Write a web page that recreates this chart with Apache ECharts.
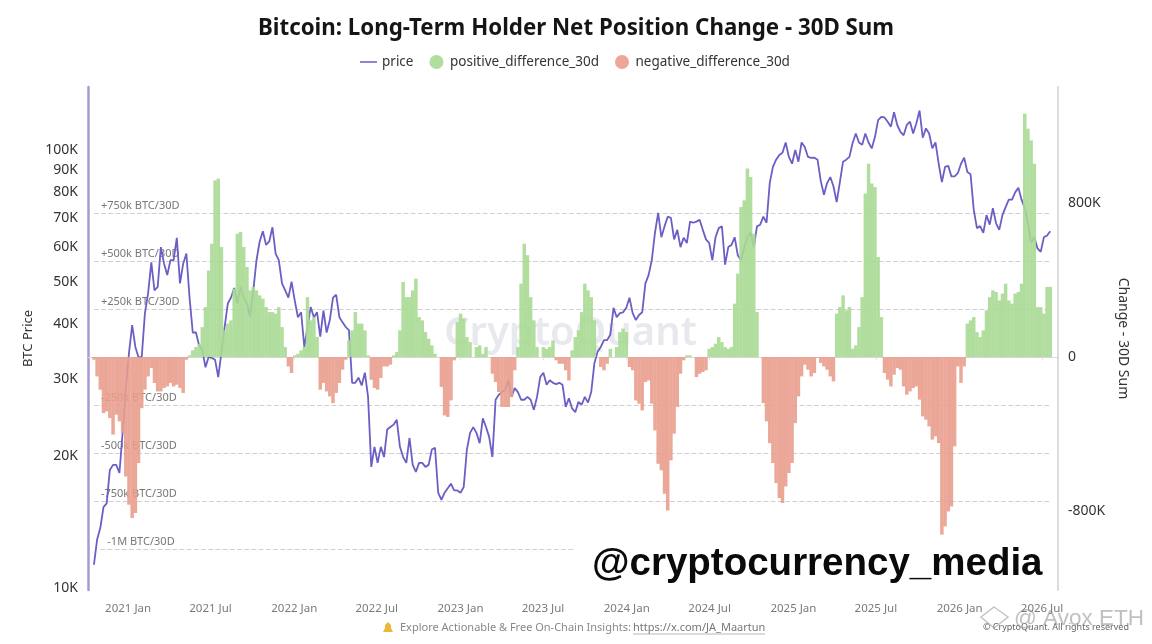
<!DOCTYPE html>
<html><head><meta charset="utf-8">
<style>html,body{margin:0;padding:0;background:#fff}#c{width:1152px;height:644px}</style>
<script src="https://cdn.jsdelivr.net/npm/echarts@6/dist/echarts.min.js"></script>
</head><body><div id="c"></div>
<script>
const firstWeek = '2020-10-18';
const priceK = [11.3,12.9,13.7,15.3,15.6,18.6,19.1,19.1,18.3,22.6,28.3,34.4,39.8,35.5,33.6,33.7,42.4,47.1,55.4,47.8,48.7,60,55,51.8,56,56,63,49.6,55,58,
46,38.3,38.3,35.8,34.9,31.9,33.7,33.5,33.2,30.3,34.5,39.4,44.6,46,48.4,44.6,48.7,46,44.6,41.5,47.8,56,61.8,65.2,60.7,61.8,66.6,58,56,49.6,
47.8,46,50,45.3,41.5,42.6,35.5,39.4,43.8,41.5,42.6,37.5,43,38.3,40.9,46,46.7,41.5,40.4,39.4,38.8,29.4,29.4,30.2,29,31,27.3,18.9,21,19.3,
21,19.9,23,23.3,23.6,24.2,21,19.9,19.3,22,19.1,18.4,19.3,19.3,18.9,19.1,20.7,20.9,16.5,15.9,16.5,16.9,17.3,16.7,16.7,16.5,17,20.7,22.6,23.3,
22.6,21.4,24.4,23.3,22.1,19.9,26.9,27.6,28,28.3,29.8,27.3,28.6,28,26.9,26.9,27.3,26.9,25.5,27.3,30.3,31,29.1,29.8,29.4,29.2,29.4,29.1,25.9,27.1,
25.7,25.2,26.6,26.2,27.3,26.5,28,32.6,34.6,35.5,36.8,36.8,37.9,43.6,41.5,42.4,42.6,43.6,46,42.4,40.9,42,42.6,49.6,51.8,56,64.7,71.8,63.2,66.9,
70.4,70,62.5,65.7,60,63,61.3,68.6,68.2,68.6,69.3,65.7,62.5,61.3,56,63.2,66.3,66.9,54.7,60,60.7,63.2,57.4,56,60,63.2,64.7,60,66.9,67.5,
70.4,68.2,84,91.5,95,97.4,98.5,104,96.4,93,100,94,104,101.6,96.4,95.9,96,95,85,79,84,86.7,82.5,76,84.4,94,95,96.4,103.7,109,
104,102.7,109,104,100.8,107,117,119,118.6,116,113,122,114,110,108,114,116,109,115,123,106.6,112,109,100.8,104,93,84.4,91.5,92,87,
87,88.5,93,96,89,88,73,66.3,67,64.7,71,67.5,73.6,68,65.7,71,74,77,77,80,82,77,73.6,68.2,61.3,63.2,59.6,58.5,63.2,63.8,65.2];
const netChangeK = [-14,-101,-170,-292,-283,-318,-404,-300,-335,-396,-622,-769,-838,-812,-552,-266,-170,-101,-57,-135,-179,-179,-161,-153,-135,-153,-144,-161,-187,-14,
9,35,52,69,156,260,451,590,920,929,573,139,174,191,356,642,651,573,469,347,365,347,321,304,260,234,234,226,260,156,
52,-49,-83,9,17,35,52,312,191,208,104,-170,-135,-179,-205,-240,-187,-135,-66,-14,87,139,234,174,174,139,9,-118,-161,-170,
-109,-49,-49,-40,9,26,139,391,312,312,347,408,208,191,130,95,61,17,0,-156,-304,-312,-226,-17,182,226,200,104,78,0,
52,61,17,52,0,-87,-130,-182,-260,-260,-260,-208,-69,52,382,590,530,312,191,52,0,52,43,52,87,-17,-35,-35,-69,-122,
35,104,139,234,382,347,312,191,0,-52,-69,-35,43,0,52,130,148,130,-52,-69,-226,-243,-278,-130,-122,-243,-382,-556,-590,-712,
-799,-538,-399,-260,-87,-17,9,9,0,-104,-87,-78,-69,43,52,69,104,78,52,43,52,278,434,781,816,981,937,642,234,0,
-240,-335,-448,-552,-656,-734,-760,-674,-604,-552,-344,-205,-101,-40,-66,-101,-83,-5,-31,-49,-66,-101,-127,226,260,321,243,260,43,61,
156,312,851,1007,903,885,521,208,-83,-118,-153,-92,-57,-66,-153,-196,-179,-161,-153,-222,-309,-326,-361,-430,-413,-448,-925,-882,-804,-778,
-465,-49,-135,-49,174,191,208,130,104,139,243,312,347,339,295,330,382,295,278,330,339,382,1267,1189,1128,1007,260,260,226,365,365];
const priceTicks = [10,20,30,40,50,60,70,80,90,100];
const changeTicks = [-800,0,800];
const guideValues = [750,500,250,-250,-500,-750,-1000];
const guideNames = ['+750k BTC/30D','+500k BTC/30D','+250k BTC/30D','-250k BTC/30D','-500k BTC/30D','-750k BTC/30D','-1M BTC/30D'];
const xTicks = ['2021-01-01','2021-07-01','2022-01-01','2022-07-01','2023-01-01','2023-07-01','2024-01-01','2024-07-01','2025-01-01','2025-07-01','2026-01-01','2026-07-01'];
const monthNames = {0:'Jan',6:'Jul'};

const DAY = 864e5, t0 = Date.parse(firstWeek+'T00:00:00Z');
const dates = priceK.map((_, i) => t0 + i*7*DAY);
const lastDate = dates[dates.length-1];
const priceData = priceK.map((v,i)=>[dates[i],v]);
const posData = netChangeK.map((v,i)=>[dates[i], v>0?v:null]);
const negData = netChangeK.map((v,i)=>[dates[i], v<0?v:null]);
const FONT = '"Noto Sans", sans-serif';
const xTickTimes = xTicks.map(d=>Date.parse(d+'T00:00:00Z'));
const guides = guideValues.map((v,i)=>[
  {coord:[t0 + (v===-1000?14*DAY:0), v], label:{formatter:guideNames[i]}},
  {coord:[v===-1000?Date.parse('2023-09-10'):lastDate, v]}
]);

const chart = echarts.init(document.getElementById('c'), null, {renderer:'canvas'});
chart.setOption({
  backgroundColor:'#fff', animation:false, textStyle:{fontFamily:FONT},
  title:{text:'Bitcoin: Long-Term Holder Net Position Change - 30D Sum', left:'center', top:13,
    textStyle:{fontFamily:FONT,fontSize:22.3,fontWeight:700,color:'#151515'}},
  legend:{top:50,left:355,itemWidth:17,itemHeight:14,itemGap:16,
    textStyle:{fontFamily:FONT,fontSize:13.5,color:'#333'},
    data:[{name:'price',icon:'path://M0,0 L0,0 M0,6.2 H18 V7.8 H0 Z M18,14 L18,14'},{name:'positive_difference_30d',icon:'circle'},{name:'negative_difference_30d',icon:'circle'}]},
  grid:{left:88,right:94,top:87,bottom:54},
  xAxis:{type:'value',min:Date.parse('2020-10-05'),max:Date.parse('2026-08-05'),
    splitLine:{show:false},
    axisLine:{lineStyle:{color:'#d8d8d8',width:1}},
    axisTick:{show:true,length:3,lineStyle:{color:'#e2e2e2'},customValues:xTickTimes},
    axisLabel:{color:'#7a7a7a',fontSize:11.5,margin:13,fontFamily:FONT,hideOverlap:false,
      customValues:xTickTimes,
      formatter:v=>{const d=new Date(v);return d.getUTCFullYear()+' '+monthNames[d.getUTCMonth()];}}},
  yAxis:[
    {type:'log',logBase:10,min:9.895,max:139.2,position:'left',name:'BTC Price',nameLocation:'middle',nameGap:47,
     nameTextStyle:{fontSize:13,color:'#333',fontFamily:FONT},
     axisLine:{show:true,lineStyle:{color:'#a79ad0',width:2.5}},axisTick:{show:false},splitLine:{show:false},minorTick:{show:false},minorSplitLine:{show:false},
     axisLabel:{customValues:priceTicks,fontSize:14,color:'#333',margin:10,fontFamily:FONT,formatter:v=>Math.round(v)+'K'}},
    {type:'value',min:-1213,max:1406,position:'right',name:'Change - 30D Sum',nameLocation:'middle',nameRotate:-90,nameGap:56,
     nameTextStyle:{fontSize:14,color:'#333',fontFamily:FONT},
     axisLine:{show:true,lineStyle:{color:'#dcdcdc',width:2}},axisTick:{show:false},splitLine:{show:false},
     axisLabel:{customValues:changeTicks,fontSize:14,color:'#333',margin:10,fontFamily:FONT,formatter:v=>v===0?'0':(v+'K')}}
  ],
  series:[
    {name:'price',type:'line',yAxisIndex:0,data:priceData,showSymbol:false,symbol:'none',z:2,
      lineStyle:{color:'#6a5fc4',width:1.8},itemStyle:{color:'#6a5fc4'}},
    {name:'positive_difference_30d',type:'bar',yAxisIndex:1,data:posData,barWidth:3.5,barGap:'-100%',z:3,
      itemStyle:{color:'#a8da94',opacity:0.9},
      markLine:{silent:true,symbol:'none',z:1,animation:false,
        lineStyle:{type:'dashed',color:'#cfcfcf',width:1.2},
        label:{show:true,position:'insideStartTop',distance:[7,2],color:'#777',fontSize:11,fontFamily:FONT},
        data:guides}},
    {name:'negative_difference_30d',type:'bar',yAxisIndex:1,data:negData,barWidth:3.5,barGap:'-100%',z:3,
      itemStyle:{color:'#e99f8e',opacity:0.9}}
  ],
  graphic:[
    {type:'text',x:444,y:314,z:1,silent:true,style:{text:'CryptoQuant',font:'600 40px "Noto Sans", sans-serif',fill:'rgba(200,202,215,0.42)'}},
    {type:'rect',shape:{x:583,y:538,width:470,height:51},style:{fill:'#fff'},z:10,silent:true},
    {type:'text',x:592,y:545,z:11,silent:true,style:{text:'@cryptocurrency_media',font:'700 38.5px "Liberation Sans", Arial, sans-serif',fill:'#0a0a0a'}},
    {type:'polygon',shape:{points:[[383,632],[393,632],[391,628],[391,625],[388,622],[385,625],[385,628]]},style:{fill:'#e8b83c'},z:11,silent:true},
    {type:'text',x:400,y:622,z:11,silent:true,style:{text:'Explore Actionable & Free On-Chain Insights: ',font:'11px "Noto Sans", sans-serif',fill:'#888'}},
    {type:'text',x:633,y:622,z:11,silent:true,style:{text:'https://x.com/JA_Maartun',font:'11px "Noto Sans", sans-serif',fill:'#777'}},
    {type:'line',shape:{x1:633,y1:634,x2:765,y2:634},style:{stroke:'#999',lineWidth:0.7},z:11,silent:true},
    {type:'text',x:983,y:623,z:11,silent:true,style:{text:'© CryptoQuant. All rights reserved',font:'9px "Noto Sans", sans-serif',fill:'#666'}},
    {type:'polygon',shape:{points:[[994,607],[1008,617],[994,628],[981,617]]},style:{fill:'none',stroke:'rgba(150,150,150,0.55)',lineWidth:1.5},z:12,silent:true},
    {type:'text',x:1014,y:607,z:12,silent:true,style:{text:'@ Avox ETH',font:'22.5px "Liberation Sans", sans-serif',fill:'rgba(140,140,140,0.55)'}}
  ]
});
</script></body></html>
